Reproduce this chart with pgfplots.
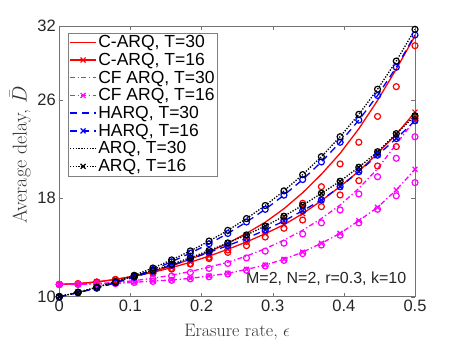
\documentclass[border=0pt]{standalone}
\usepackage{pgfplots}
\pgfplotsset{compat=1.18}
\usepackage{pgfplotstable}
\usepackage{fontspec}
\setsansfont{Liberation Sans}
\definecolor{mred}{rgb}{1,0,0}
\definecolor{mmag}{rgb}{1,0,1}
\definecolor{mblue}{rgb}{0,0,1}

\pgfplotstableread{
eps       a30   h30   a16   h16   c30   c30s  c16   c16s  f30   f30s  f16   f16s
0.000000  10.00 10.00 10.00 10.00 11.00 11.00 11.00 11.00 11.00 11.00 11.00 11.00
0.026316  10.36 10.33 10.36 10.33 11.06 11.06 11.06 11.05 11.02 11.02 11.00 11.00
0.052632  10.76 10.70 10.76 10.70 11.20 11.20 11.20 11.18 11.07 11.06 11.03 11.02
0.078947  11.22 11.14 11.20 11.13 11.40 11.40 11.40 11.37 11.16 11.14 11.08 11.07
0.105263  11.74 11.64 11.66 11.58 11.68 11.65 11.66 11.60 11.30 11.27 11.17 11.15
0.131579  12.33 12.20 12.14 12.06 12.05 11.95 11.98 11.90 11.50 11.45 11.27 11.24
0.157895  12.99 12.84 12.64 12.55 12.50 12.30 12.36 12.25 11.75 11.68 11.36 11.33
0.184211  13.72 13.54 13.17 13.06 13.05 12.70 12.80 12.65 12.05 11.97 11.49 11.45
0.210526  14.52 14.30 13.75 13.60 13.65 13.20 13.30 13.10 12.40 12.30 11.68 11.62
0.236842  15.39 15.14 14.37 14.15 14.35 13.80 13.85 13.60 12.80 12.70 11.90 11.85
0.263158  16.35 16.07 15.02 14.74 15.15 14.50 14.45 14.15 13.30 13.15 12.22 12.15
0.289474  17.41 17.10 15.74 15.42 16.05 15.30 15.12 14.85 13.90 13.70 12.57 12.50
0.315789  18.60 18.25 16.54 16.15 17.15 16.23 15.85 15.56 14.60 14.35 13.04 12.95
0.342105  19.92 19.52 17.43 16.99 18.45 17.59 16.75 16.23 15.40 15.10 13.62 13.50
0.368421  21.38 20.95 18.40 17.86 19.95 18.94 17.80 17.32 16.35 16.00 14.34 14.20
0.394737  23.00 22.55 19.38 18.94 21.65 20.79 18.95 18.27 17.45 17.05 15.15 15.00
0.421053  24.82 24.35 20.52 20.16 23.65 22.55 20.20 19.43 18.80 18.35 16.18 16.00
0.447368  26.86 26.35 21.78 21.50 25.95 24.65 21.65 20.62 20.40 19.75 17.26 17.10
0.473684  29.15 28.65 23.25 22.85 28.50 27.07 23.20 22.20 22.40 21.25 18.67 18.20
0.500000  31.73 31.27 24.70 24.30 31.20 30.40 25.00 24.50 24.40 23.00 20.35 19.27
}\data

\begin{document}
\begin{tikzpicture}
\begin{axis}[
  scale only axis,
  width=355.7pt, height=270.7pt,
  xmin=0, xmax=0.5, ymin=10, ymax=32,
  xtick={0,0.1,0.2,0.3,0.4,0.5},
  xticklabels={0,0.1,0.2,0.3,0.4,0.5},
  ytick={10,18,26,32},
  yticklabels={10,18,26,32},
  /pgf/number format/assume math mode=true,
  tick label style={font=\sffamily\fontsize{16.5}{19}\selectfont, color=black!85},
  axis line style={black!55},
  major tick style={black!55},
  tick align=inside,
  major tick length=4pt,
  xlabel={Erasure rate, $\epsilon$},
  ylabel={Average delay, $\bar{D}$},
  label style={color=black!80},
  xlabel style={font=\fontsize{18}{21}\selectfont, at={(axis description cs:0.5,-0.13)}, anchor=center},
  ylabel style={font=\fontsize{20}{23}\selectfont, at={(axis description cs:-0.11,0.525)}, anchor=center},
  legend style={at={(0.025,0.975)}, anchor=north west,
    font=\sffamily\fontsize{17.5}{20}\selectfont,
    nodes={font=\sffamily\fontsize{17.5}{20}\selectfont, inner sep=1.5pt},
    draw=black!50, inner sep=1pt, row sep=1pt, column sep=0pt,
    cells={anchor=west}},
  legend cell align=left,
  legend image code/.code={\draw[mark repeat=2,mark phase=2,line width=1.4pt,#1] plot coordinates {(0pt,0pt) (13pt,0pt) (26pt,0pt)};},
  every axis plot/.append style={line width=1.3pt},
  mark options={solid, line width=1.2pt},
]
% lines
\addplot[mred, solid, no markers] table[x=eps,y=c30] {\data};
\addlegendentry{C-ARQ, T=30}
\addplot[mred, solid, mark=x, mark size=3.5pt] table[x=eps,y=c16] {\data};
\addlegendentry{C-ARQ, T=16}
\addplot[mmag, dash pattern=on 5pt off 2.5pt on 1.3pt off 2.5pt, no markers] table[x=eps,y=f30] {\data};
\addlegendentry{CF ARQ, T=30}
\addplot[mmag, dash pattern=on 5pt off 2.5pt on 1.3pt off 2.5pt, mark=x, mark size=3.5pt] table[x=eps,y=f16] {\data};
\addlegendentry{CF ARQ, T=16}
\addplot[mblue, dash pattern=on 7pt off 5pt, no markers] table[x=eps,y=h30] {\data};
\addlegendentry{HARQ, T=30}
\addplot[mblue, dash pattern=on 7pt off 5pt, mark=x, mark size=3.5pt] table[x=eps,y=h16] {\data};
\addlegendentry{HARQ, T=16}
\addplot[black, dash pattern=on 1.3pt off 1.5pt, no markers] table[x=eps,y=a30] {\data};
\addlegendentry{ARQ, T=30}
\addplot[black, dash pattern=on 1.3pt off 1.5pt, mark=x, mark size=3.5pt] table[x=eps,y=a16] {\data};
\addlegendentry{ARQ, T=16}
% simulation circles
\addplot[mred, only marks, mark=o, mark size=3pt, forget plot] table[x=eps,y=c30s] {\data};
\addplot[mred, only marks, mark=o, mark size=3pt, forget plot] table[x=eps,y=c16s] {\data};
\addplot[mmag, only marks, mark=o, mark size=3pt, forget plot] table[x=eps,y=f30s] {\data};
\addplot[mmag, only marks, mark=o, mark size=3pt, forget plot] table[x=eps,y=f16s] {\data};
\addplot[mblue, only marks, mark=o, mark size=3pt, forget plot] table[x=eps,y=h30] {\data};
\addplot[mblue, only marks, mark=o, mark size=3pt, forget plot] table[x=eps,y=h16] {\data};
\addplot[black, only marks, mark=o, mark size=3pt, forget plot] table[x=eps,y=a30] {\data};
\addplot[black, only marks, mark=o, mark size=3pt, forget plot] table[x=eps,y=a16] {\data};
\node[anchor=east, font=\sffamily\fontsize{16}{19}\selectfont, text=black!85, inner sep=0pt] at (axis cs:0.488,11.5) {M=2, N=2, r=0.3, k=10};
\coordinate (O) at (rel axis cs:0,0);
\end{axis}
\path (O) ++(-59.3pt,-47.3pt) rectangle ++(459pt,344pt);
\end{tikzpicture}
\end{document}
